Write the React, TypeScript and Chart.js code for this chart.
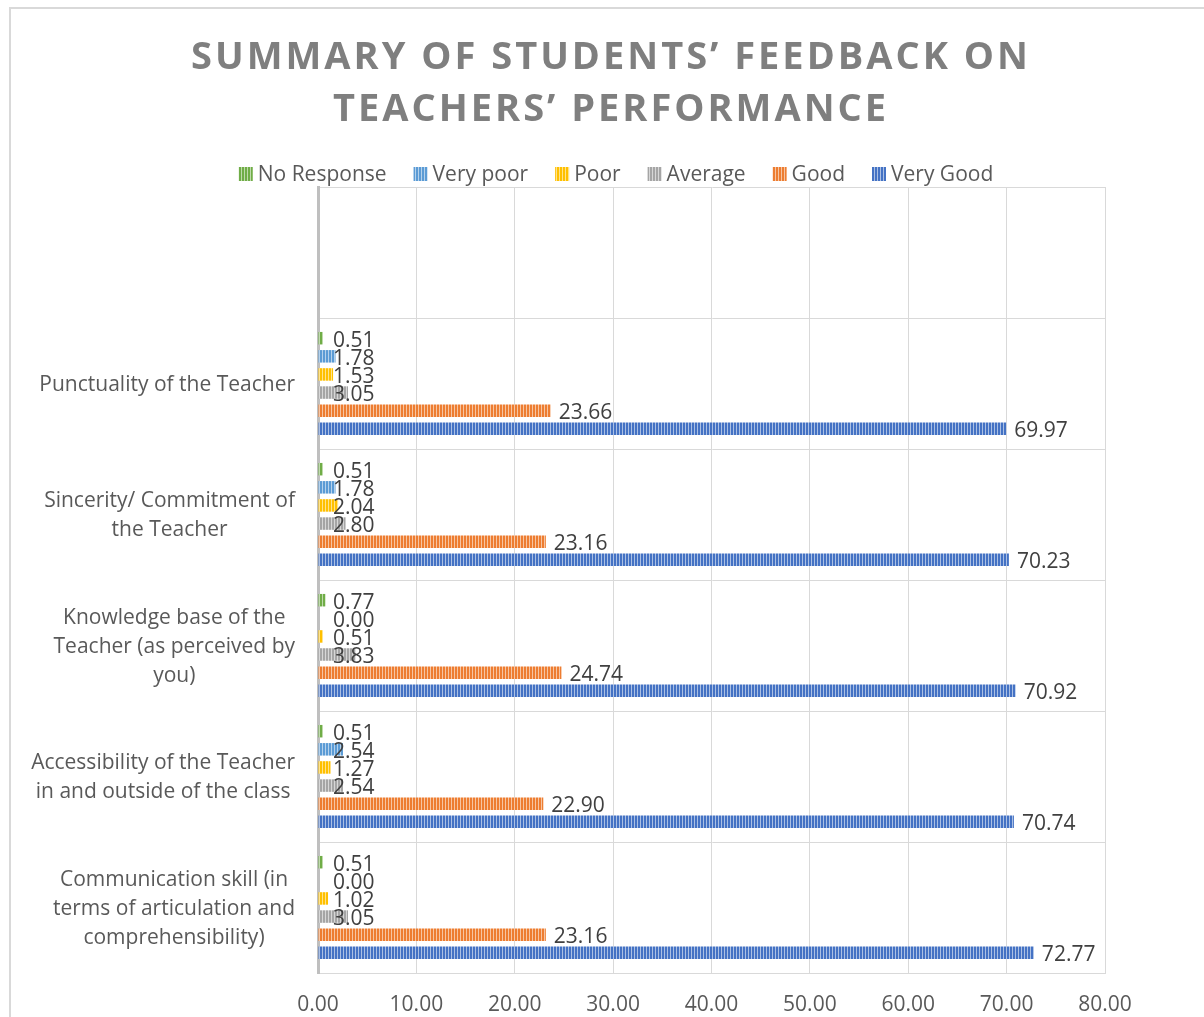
import React, { useEffect, useRef } from "react";
import { Chart, registerables } from "chart.js";

Chart.register(...registerables);

// ---- Data ----
const categories: string[][] = [
  [""],
  ["Punctuality of the Teacher"],
  ["Sincerity/ Commitment of", "the Teacher"],
  ["Knowledge base of the", "Teacher (as perceived by", "you)"],
  ["Accessibility of the Teacher", "in and outside of the class"],
  ["Communication skill (in", "terms of articulation and", "comprehensibility)"],
];
const seriesNames = ["No Response", "Very poor", "Poor", "Average", "Good", "Very Good"];
const noResponse = [null, 0.51, 0.51, 0.77, 0.51, 0.51];
const veryPoor = [null, 1.78, 1.78, 0.0, 2.54, 0.0];
const poor = [null, 1.53, 2.04, 0.51, 1.27, 1.02];
const average = [null, 3.05, 2.8, 3.83, 2.54, 3.05];
const good = [null, 23.66, 23.16, 24.74, 22.9, 23.16];
const veryGood = [null, 69.97, 70.23, 70.92, 70.74, 72.77];
const seriesValues = [noResponse, veryPoor, poor, average, good, veryGood];
const seriesColors = ["#70ad47", "#5b9bd5", "#ffc000", "#a5a5a5", "#ed7d31", "#4472c4"];
const xTickValues = [0, 10, 20, 30, 40, 50, 60, 70, 80];
const titleLines = ["SUMMARY OF STUDENTS’ FEEDBACK ON", "TEACHERS’ PERFORMANCE"];

const FONT = "'Open Sans', sans-serif";
const FS = 21;

function lighten(hex: string, amt: number): string {
  const n = parseInt(hex.slice(1), 16);
  const r = (n >> 16) & 255, g = (n >> 8) & 255, b = n & 255;
  const m = (c: number) => Math.round(c + (255 - c) * amt);
  return `rgb(${m(r)},${m(g)},${m(b)})`;
}

function makePattern(color: string): CanvasPattern | string {
  const c = document.createElement("canvas");
  c.width = 3;
  c.height = 4;
  const x = c.getContext("2d");
  if (!x) return color;
  x.fillStyle = color;
  x.fillRect(0, 0, 2, 4);
  x.fillStyle = lighten(color, 0.55);
  x.fillRect(2, 0, 1, 4);
  const p = x.createPattern(c, "repeat");
  return p || color;
}

const overlayPlugin = {
  id: "overlay",
  afterDraw(chart: any) {
    const ctx: CanvasRenderingContext2D = chart.ctx;
    const area = chart.chartArea;
    ctx.save();

    // Title
    ctx.fillStyle = "#7f7f7f";
    ctx.font = `bold 38px ${FONT}`;
    (ctx as any).letterSpacing = "3px";
    ctx.textAlign = "center";
    ctx.textBaseline = "middle";
    ctx.fillText(titleLines[0], 600, 49);
    ctx.fillText(titleLines[1], 600, 101);
    (ctx as any).letterSpacing = "0px";

    // Legend
    ctx.font = `${FS}px ${FONT}`;
    const box = 14, gapText = 5, gapItem = 27;
    const widths = seriesNames.map((n) => box + gapText + ctx.measureText(n).width);
    const total = widths.reduce((a, b) => a + b, 0) + gapItem * (widths.length - 1);
    let lx = 605 - total / 2;
    const ly = 165;
    ctx.textAlign = "left";
    ctx.textBaseline = "middle";
    seriesNames.forEach((n, i) => {
      ctx.fillStyle = chart.data.datasets[i].backgroundColor;
      ctx.fillRect(lx, ly - box / 2, box, box);
      ctx.fillStyle = "#595959";
      ctx.fillText(n, lx + box + gapText, ly + 1);
      lx += widths[i] + gapItem;
    });

    // Category labels
    const yScale = chart.scales.y;
    const right = area.left - 23;
    const lh = 29;
    ctx.fillStyle = "#595959";
    ctx.font = `${FS}px ${FONT}`;
    ctx.textAlign = "center";
    categories.forEach((lines, i) => {
      const cy = yScale.getPixelForValue(i) + 1.5;
      const bw = Math.max(...lines.map((l) => ctx.measureText(l).width));
      const cx = right - bw / 2;
      const y0 = cy - ((lines.length - 1) * lh) / 2;
      lines.forEach((l, k) => ctx.fillText(l, cx, y0 + k * lh));
    });

    // Data labels
    ctx.fillStyle = "#404040";
    ctx.textAlign = "left";
    ctx.font = `${FS}px ${FONT}`;
    chart.data.datasets.forEach((ds: any, di: number) => {
      const meta = chart.getDatasetMeta(di);
      meta.data.forEach((bar: any, j: number) => {
        const v = ds.data[j];
        if (v === null || v === undefined) return;
        const x = v < 5 ? area.left + 15 : bar.x + 8;
        ctx.fillText(Number(v).toFixed(2), x, bar.y + 2.5);
      });
    });

    ctx.restore();
  },
};

export default function App() {
  const ref = useRef<HTMLCanvasElement>(null);
  useEffect(() => {
    if (!ref.current) return;
    const patterns = seriesColors.map(makePattern);
    const chart = new Chart(ref.current, {
      type: "bar",
      data: {
        labels: categories as any,
        datasets: seriesNames.map((name, i) => ({
          label: name,
          data: seriesValues[i] as any,
          backgroundColor: patterns[i] as any,
          borderWidth: 0,
          barPercentage: 0.69,
          categoryPercentage: 0.83,
        })),
      },
      options: {
        indexAxis: "y",
        responsive: false,
        animation: false,
        layout: { padding: { top: 178, right: 156, left: 0, bottom: 0 } },
        plugins: {
          legend: { display: false },
          title: { display: false },
          tooltip: { enabled: false },
        },
        scales: {
          x: {
            min: 0,
            max: 80,
            afterBuildTicks: (s: any) => {
              s.ticks = xTickValues.map((v) => ({ value: v }));
            },
            ticks: {
              callback: (v: any) => Number(v).toFixed(2),
              font: { family: FONT, size: FS },
              color: "#595959",
              padding: 19,
              maxRotation: 0,
              autoSkip: false,
            },
            grid: { color: "#d9d9d9", drawTicks: false, lineWidth: 1 },
            border: { color: "#d9d9d9", width: 1 },
            afterFit: (s: any) => {
              s.height = 96;
            },
          },
          y: {
            ticks: { display: false },
            grid: { color: "#d9d9d9", drawTicks: false, offset: true, lineWidth: 1 },
            border: { color: "#bfbfbf", width: 3 },
            afterFit: (s: any) => {
              s.width = 307;
            },
          },
        },
      },
      plugins: [overlayPlugin],
    } as any);
    return () => chart.destroy();
  }, []);

  return (
    <div
      style={{
        position: "fixed",
        left: 9,
        top: 7,
        width: 1195,
        height: 1010,
        overflow: "hidden",
        borderLeft: "2px solid #d9d9d9",
        borderTop: "2px solid #d9d9d9",
        background: "#fff",
      }}
    >
      <canvas ref={ref} width={1250} height={1060} style={{ display: "block" }} />
    </div>
  );
}
